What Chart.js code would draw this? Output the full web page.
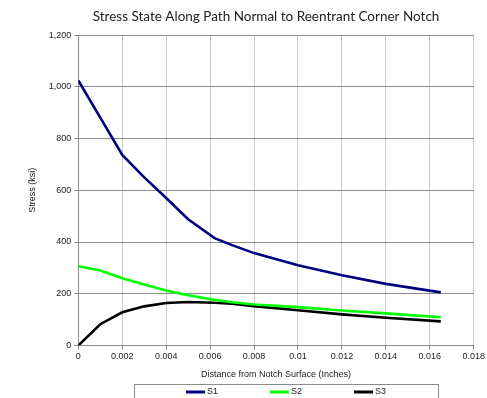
<!DOCTYPE html>
<html>
<head>
<meta charset="utf-8">
<script src="https://cdn.jsdelivr.net/npm/chart.js@4/dist/chart.umd.min.js"></script>
<style>
html,body{margin:0;padding:0;background:#fff;}
#wrap{width:487px;height:398px;}
</style>
</head>
<body>
<div id="wrap"><canvas id="c" width="487" height="398"></canvas></div>
<script>
const distances = [0, 0.001, 0.002, 0.003, 0.004, 0.005, 0.0062, 0.007, 0.008, 0.01, 0.012, 0.014, 0.0165];
const s1 = [1025, 881, 737, 650, 570, 488, 415, 388, 357, 310, 271, 238, 205];
const s2 = [306, 290, 260, 236, 212, 194, 176, 167, 158, 148, 135, 124, 109];
const s3 = [0, 82, 128, 151, 164, 168, 165, 161, 152, 136, 120, 107, 93];
const seriesNames = ['S1', 'S2', 'S3'];
const seriesColors = ['#000080', '#00ff00', '#000000'];
const xTickLabels = ['0', '0.002', '0.004', '0.006', '0.008', '0.01', '0.012', '0.014', '0.016', '0.018'];
const yTickLabels = ['0', '200', '400', '600', '800', '1,000', '1,200'];

const toPts = arr => arr.map((v, i) => ({x: distances[i], y: v}));
const allSeries = [s1, s2, s3];

const titleShift = {
  id: 'titleShift',
  afterLayout(chart) {
    const t = chart.titleBlock;
    if (t) { t.left -= 10; t.right -= 10; }
  }
};

const boxLegend = {
  id: 'boxLegend',
  afterDraw(chart) {
    const ctx = chart.ctx;
    const ds = chart.data.datasets;
    ctx.save();
    ctx.font = '9px "Liberation Sans", Arial, sans-serif';
    const lineW = 19, gap = 2, spacing = 84;
    const totalW = spacing * (ds.length - 1) + lineW + gap + ctx.measureText(ds[ds.length-1].label).width;
    const cx = (chart.chartArea.left + chart.chartArea.right) / 2 + 10;
    let x = cx - totalW / 2;
    const yMid = chart.height - 6;
    const boxL = Math.round(cx - 152) + 0.5, boxR = Math.round(cx + 152) + 0.5;
    ctx.strokeStyle = '#8c8c8c';
    ctx.lineWidth = 1;
    ctx.strokeRect(boxL, Math.round(yMid - 8) + 0.5, boxR - boxL, 30);
    ds.forEach((d) => {
      ctx.strokeStyle = d.borderColor;
      ctx.lineWidth = 3;
      ctx.beginPath();
      ctx.moveTo(x, yMid);
      ctx.lineTo(x + lineW, yMid);
      ctx.stroke();
      ctx.fillStyle = '#222';
      ctx.textBaseline = 'middle';
      ctx.textAlign = 'left';
      ctx.fillText(d.label, x + lineW + gap, yMid);
      x += spacing;
    });
    ctx.restore();
  }
};

new Chart(document.getElementById('c'), {
  type: 'scatter',
  data: {
    datasets: allSeries.map((s, i) => ({
      label: seriesNames[i],
      data: toPts(s),
      showLine: true,
      borderColor: seriesColors[i],
      backgroundColor: seriesColors[i],
      borderWidth: 2.6,
      pointRadius: 0,
      tension: 0
    }))
  },
  options: {
    responsive: false,
    animation: false,
    layout: {padding: {left: 27, right: 0, top: 0, bottom: 18}},
    plugins: {
      legend: {display: false},
      tooltip: {enabled: false},
      title: {
        display: true,
        fullSize: false,
        text: 'Stress State Along Path Normal to Reentrant Corner Notch',
        color: '#222',
        font: {family: 'Lato, "Open Sans", sans-serif', size: 13.5, weight: 'normal'},
        padding: {top: 9, bottom: 10}
      }
    },
    scales: {
      x: {
        type: 'linear',
        min: 0, max: 0.018,
        ticks: {
          stepSize: 0.002,
          color: '#222',
          font: {family: '"Liberation Sans", Arial, sans-serif', size: 9},
          padding: 2,
          maxRotation: 0,
          callback: (v, i) => xTickLabels[i]
        },
        grid: {color: '#c8c8c8', tickLength: 4, tickColor: '#888'},
        border: {color: '#888'},
        title: {
          display: true,
          text: 'Distance from Notch Surface (Inches)',
          color: '#222',
          font: {family: '"Liberation Sans", Arial, sans-serif', size: 9},
          padding: {top: 5, bottom: 0}
        }
      },
      y: {
        min: 0, max: 1200,
        ticks: {
          stepSize: 200,
          color: '#222',
          font: {family: '"Liberation Sans", Arial, sans-serif', size: 9},
          padding: 3,
          callback: (v, i) => yTickLabels[i]
        },
        grid: {color: '#8c8c8c', tickLength: 4},
        border: {color: '#8c8c8c'},
        title: {
          display: true,
          text: 'Stress (ksi)',
          color: '#222',
          font: {family: '"Liberation Sans", Arial, sans-serif', size: 9},
          padding: {top: 0, bottom: 8}
        }
      }
    }
  },
  plugins: [boxLegend, titleShift]
});
</script>
</body>
</html>
